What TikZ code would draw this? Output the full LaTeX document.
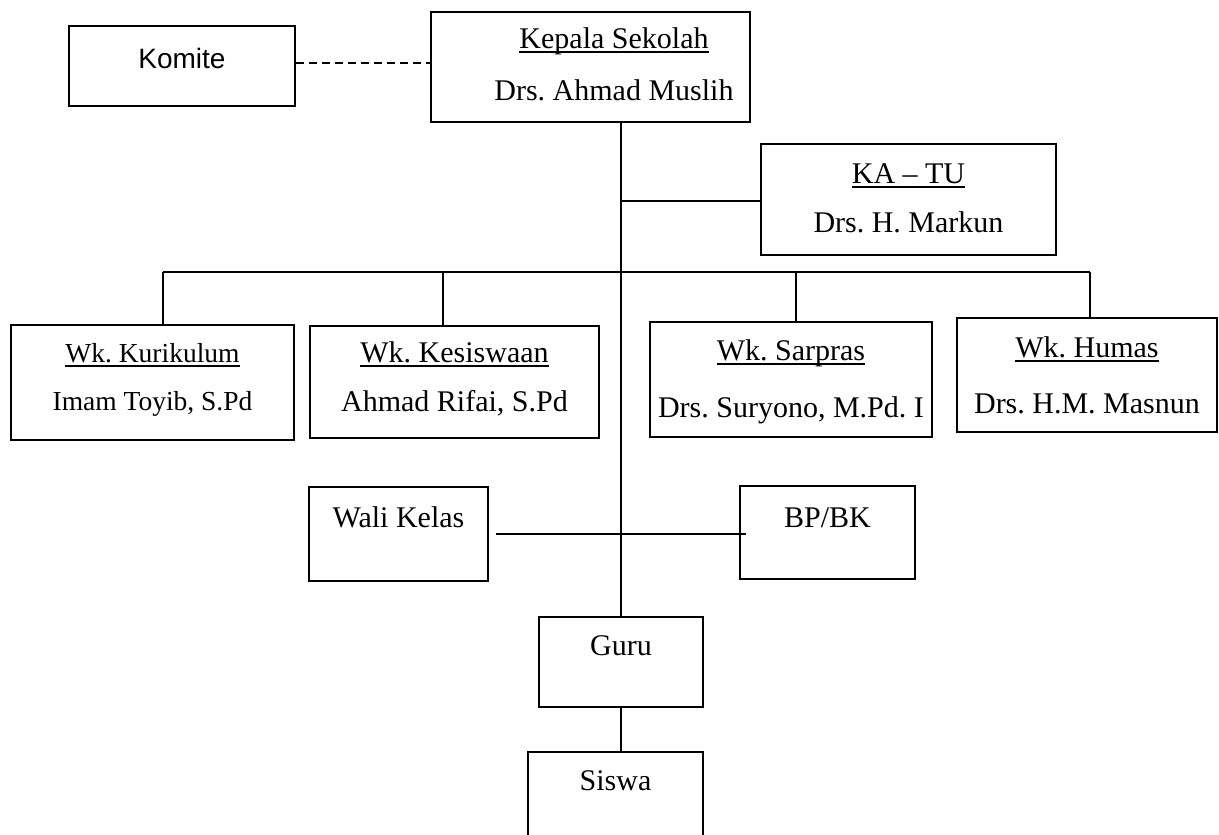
\documentclass[tikz,border=0pt]{standalone}
\usepackage{fontspec}
\setmainfont{Liberation Serif}
\newfontfamily\arialf{Liberation Sans}
\newcommand{\myul}[1]{\setbox0=\hbox{#1}\rlap{\rule[-4.6pt]{\wd0}{1.8pt}}\box0}
\frenchspacing
\begin{document}
\begin{tikzpicture}[x=1pt,y=-1pt,
  box/.style={draw=black, line width=2pt, rectangle, inner sep=0pt},
  txt/.style={anchor=base, inner sep=0pt, font=\fontsize{30}{36}\selectfont},
  smalltxt/.style={anchor=base, inner sep=0pt, font=\fontsize{27.5}{33}\selectfont},
  sanstxt/.style={anchor=base, inner sep=0pt, font=\arialf\fontsize{28}{34}\selectfont},
  link/.style={line width=2pt, draw=black},
  dashlink/.style={line width=2pt, draw=black, dash pattern=on 8pt off 5pt}
]
\fill[white] (0,0) rectangle (1219,835);
\useasboundingbox (0,0) rectangle (1219,835);

% boxes
\node[box, minimum width=226pt, minimum height=80pt]  (komite) at (182,66) {};
\node[box, minimum width=319pt, minimum height=110pt] (kepala) at (590.5,67) {};
\node[box, minimum width=295pt, minimum height=111pt] (katu)   at (908.5,199.5) {};
\node[box, minimum width=283pt, minimum height=115pt] (kur)    at (152.5,382.5) {};
\node[box, minimum width=289pt, minimum height=112pt] (kes)    at (454.5,382) {};
\node[box, minimum width=282pt, minimum height=115pt] (sar)    at (791,379.5) {};
\node[box, minimum width=260pt, minimum height=114pt] (hum)    at (1087,375) {};
\node[box, minimum width=179pt, minimum height=94pt]  (wali)   at (398.5,534) {};
\node[box, minimum width=175pt, minimum height=93pt]  (bp)     at (827.5,532.5) {};
\node[box, minimum width=164pt, minimum height=90pt]  (guru)   at (621,662) {};
\node[box, minimum width=175pt, minimum height=100pt] (siswa)  at (615.5,802) {};

% texts
\node[sanstxt] (tkomite) at (182,68) {Komite};
\node[txt] (tkepala1) at (614,48) {\myul{Kepala Sekolah}};
\node[txt] (tkepala2) at (614,100) {Drs. Ahmad Muslih};
\node[txt] (tkatu1) at (908.5,183) {\myul{KA – TU}};
\node[txt] (tkatu2) at (908.5,232) {Drs. H. Markun};
\node[smalltxt] (tkur1) at (152.5,362) {\myul{Wk. Kurikulum}};
\node[smalltxt] (tkur2) at (152.5,410) {Imam Toyib, S.Pd};
\node[txt] (tkes1) at (454.5,362) {\myul{Wk. Kesiswaan}};
\node[txt] (tkes2) at (454.5,411) {Ahmad Rifai, S.Pd};
\node[txt] (tsar1) at (791,360) {\myul{Wk. Sarpras}};
\node[txt] (tsar2) at (791,417) {Drs. Suryono, M.Pd. I};
\node[txt] (thum1) at (1087,357) {\myul{Wk. Humas}};
\node[txt] (thum2) at (1087,413) {Drs. H.M. Masnun};
\node[txt] (twali) at (398.5,527) {Wali Kelas};
\node[txt] (tbp) at (827.5,527) {BP/BK};
\node[txt] (tguru) at (621,655) {Guru};
\node[txt] (tsiswa) at (615.5,790) {Siswa};

% connectors
\draw[dashlink] ([yshift=3pt]komite.east) -- ([yshift=3pt]komite.east -| kepala.west);
\draw[link] (guru.north) -- (guru.north |- kepala.south);
\draw[link] ([yshift=-1.5pt]katu.west) -- ([yshift=-1.5pt]katu.west -| guru.north);
\coordinate (busL) at (163,272);
\coordinate (busR) at (1090,272);
\draw[link] (busL) -- (busR);
\draw[link] (busL) -- (busL |- kur.north);
\draw[link] ([xshift=-11.5pt]kes.north) -- ([xshift=-11.5pt]kes.north |- busL);
\draw[link] ([xshift=5pt]sar.north) -- ([xshift=5pt]sar.north |- busL);
\draw[link] (busR) -- (busR |- hum.north);
\draw[link] ([xshift=7pt]wali.east) -- ([xshift=7pt]wali.east -| bp.west);
\draw[link] (guru.south) -- (guru.south |- siswa.north);
\end{tikzpicture}
\end{document}
